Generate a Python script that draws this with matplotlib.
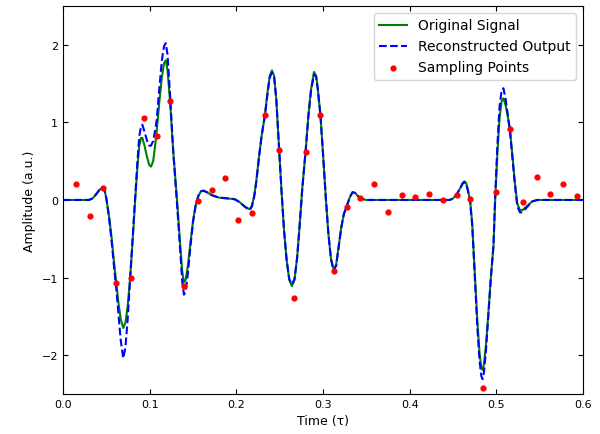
import matplotlib
matplotlib.use("Agg")
import matplotlib.pyplot as plt

# time axis shared by both curves
time = [
    0.000, 0.030, 0.034, 0.038, 0.042, 0.046, 0.048, 0.050, 0.053, 0.056,
    0.059, 0.0615, 0.064, 0.0665, 0.0695, 0.072, 0.0745, 0.0773, 0.080, 0.083,
    0.086, 0.088, 0.090, 0.0915, 0.094, 0.097, 0.0995, 0.1015, 0.104, 0.106,
    0.108, 0.111, 0.114, 0.1165, 0.1185, 0.1205, 0.1235, 0.127, 0.1315, 0.135,
    0.1375, 0.1395, 0.1415, 0.144, 0.147, 0.150, 0.153, 0.156, 0.159, 0.162,
    0.166, 0.172, 0.180, 0.190, 0.198, 0.204, 0.210, 0.2155, 0.218, 0.2205,
    0.223, 0.226, 0.229, 0.233, 0.236, 0.2385, 0.241, 0.2435, 0.246, 0.249,
    0.252, 0.255, 0.258, 0.261, 0.264, 0.267, 0.270, 0.273, 0.276, 0.280,
    0.283, 0.286, 0.2895, 0.292, 0.294, 0.297, 0.300, 0.303, 0.306, 0.309,
    0.312, 0.315, 0.318, 0.321, 0.324, 0.3275, 0.331, 0.334, 0.337, 0.341,
    0.346, 0.350, 0.446, 0.450, 0.454, 0.458, 0.461, 0.463, 0.465, 0.467,
    0.4695, 0.472, 0.4735, 0.476, 0.478, 0.4805, 0.4825, 0.484, 0.4855, 0.488,
    0.491, 0.4935, 0.4965, 0.4985, 0.501, 0.5035, 0.506, 0.508, 0.5105, 0.513,
    0.5155, 0.518, 0.521, 0.524, 0.527, 0.530, 0.533, 0.537, 0.541, 0.547,
    0.600,
]

original = [
    0.00, 0.00, 0.02, 0.07, 0.13, 0.16, 0.12, 0.02, -0.20, -0.48,
    -0.82, -1.07, -1.33, -1.53, -1.65, -1.58, -1.38, -1.02, -0.58, -0.05,
    0.45, 0.70, 0.80, 0.80, 0.70, 0.55, 0.45, 0.43, 0.50, 0.68,
    0.88, 1.25, 1.58, 1.76, 1.80, 1.68, 1.27, 0.65, 0.00, -0.55,
    -0.92, -1.06, -1.03, -0.85, -0.55, -0.27, -0.07, 0.05, 0.11, 0.12,
    0.10, 0.06, 0.03, 0.02, 0.01, -0.03, -0.09, -0.12, -0.07, 0.05,
    0.25, 0.55, 0.82, 1.10, 1.40, 1.60, 1.67, 1.60, 1.30, 0.70,
    0.12, -0.40, -0.78, -1.03, -1.11, -1.03, -0.75, -0.32, 0.15, 0.65,
    1.08, 1.42, 1.65, 1.60, 1.42, 1.08, 0.58, 0.05, -0.42, -0.75,
    -0.89, -0.84, -0.60, -0.35, -0.18, -0.07, 0.04, 0.10, 0.09, 0.04,
    0.01, 0.00, 0.00, 0.02, 0.07, 0.15, 0.22, 0.24, 0.22, 0.13,
    0.00, -0.30, -0.63, -1.15, -1.58, -1.98, -2.16, -2.19, -2.12, -1.85,
    -1.40, -1.00, -0.60, 0.00, 0.60, 1.05, 1.28, 1.31, 1.22, 1.08,
    0.90, 0.62, 0.25, -0.05, -0.13, -0.13, -0.10, -0.06, -0.02, 0.00,
    0.00,
]

reconstructed = [
    0.00, 0.00, 0.02, 0.07, 0.13, 0.17, 0.13, 0.02, -0.22, -0.52,
    -0.88, -1.15, -1.48, -1.80, -2.04, -1.90, -1.55, -1.05, -0.55, 0.00,
    0.52, 0.82, 0.95, 0.97, 0.88, 0.76, 0.70, 0.70, 0.76, 0.88,
    1.02, 1.42, 1.80, 1.98, 2.02, 1.88, 1.35, 0.65, -0.05, -0.62,
    -1.05, -1.22, -1.18, -0.95, -0.60, -0.28, -0.07, 0.05, 0.11, 0.12,
    0.10, 0.06, 0.03, 0.02, 0.01, -0.03, -0.09, -0.13, -0.08, 0.04,
    0.24, 0.54, 0.82, 1.10, 1.38, 1.58, 1.64, 1.58, 1.30, 0.70,
    0.12, -0.40, -0.78, -1.02, -1.09, -1.02, -0.75, -0.32, 0.15, 0.65,
    1.08, 1.40, 1.62, 1.58, 1.42, 1.08, 0.58, 0.05, -0.42, -0.76,
    -0.91, -0.85, -0.60, -0.35, -0.18, -0.07, 0.04, 0.10, 0.09, 0.04,
    0.01, 0.00, 0.00, 0.02, 0.07, 0.15, 0.21, 0.23, 0.21, 0.12,
    -0.02, -0.33, -0.66, -1.20, -1.66, -2.08, -2.27, -2.31, -2.22, -1.92,
    -1.42, -1.00, -0.58, 0.05, 0.70, 1.20, 1.42, 1.44, 1.30, 1.10,
    0.90, 0.58, 0.22, -0.08, -0.16, -0.16, -0.12, -0.07, -0.02, 0.00,
    0.00,
]

# sampling points
sample_t = [
    0.015, 0.031, 0.046, 0.0615, 0.078, 0.093, 0.108, 0.1235, 0.139, 0.156,
    0.172, 0.187, 0.202, 0.218, 0.233, 0.249, 0.266, 0.280, 0.297, 0.313,
    0.328, 0.343, 0.359, 0.375, 0.391, 0.406, 0.422, 0.438, 0.454, 0.470,
    0.484, 0.4996, 0.515, 0.530, 0.547, 0.562, 0.577, 0.593,
]
sample_y = [
    0.21, -0.21, 0.16, -1.07, -1.00, 1.05, 0.83, 1.27, -1.11, -0.01,
    0.13, 0.28, -0.26, -0.17, 1.09, 0.65, -1.26, 0.62, 1.09, -0.91,
    -0.09, 0.03, 0.20, -0.15, 0.06, 0.04, 0.08, 0.00, 0.06, 0.01,
    -2.42, 0.10, 0.92, -0.02, 0.29, 0.08, 0.20, 0.05,
]


def main():
    fig, ax = plt.subplots(figsize=(6, 4.35), dpi=100)
    fig.subplots_adjust(left=0.105, right=0.972, bottom=0.092, top=0.984)

    ax.plot(time, original, color="green", linewidth=1.5, label="Original Signal")
    ax.plot(time, reconstructed, color="blue", linestyle="--", linewidth=1.5,
            label="Reconstructed Output")
    ax.scatter(sample_t, sample_y, color="red", s=12, zorder=3,
               label="Sampling Points")

    ax.set_xlim(0, 0.6)
    ax.set_ylim(-2.5, 2.5)
    ax.set_xticks([0.0, 0.1, 0.2, 0.3, 0.4, 0.5, 0.6])
    ax.set_yticks([-2, -1, 0, 1, 2])
    ax.tick_params(direction="in", top=True, right=True, labelsize=8)

    ax.set_xlabel("Time (τ)", fontsize=9)
    ax.set_ylabel("Amplitude (a.u.)", fontsize=9)
    ax.legend(loc="upper right", fontsize=10)

    fig.savefig("out.png", dpi=100)


if __name__ == "__main__":
    main()
